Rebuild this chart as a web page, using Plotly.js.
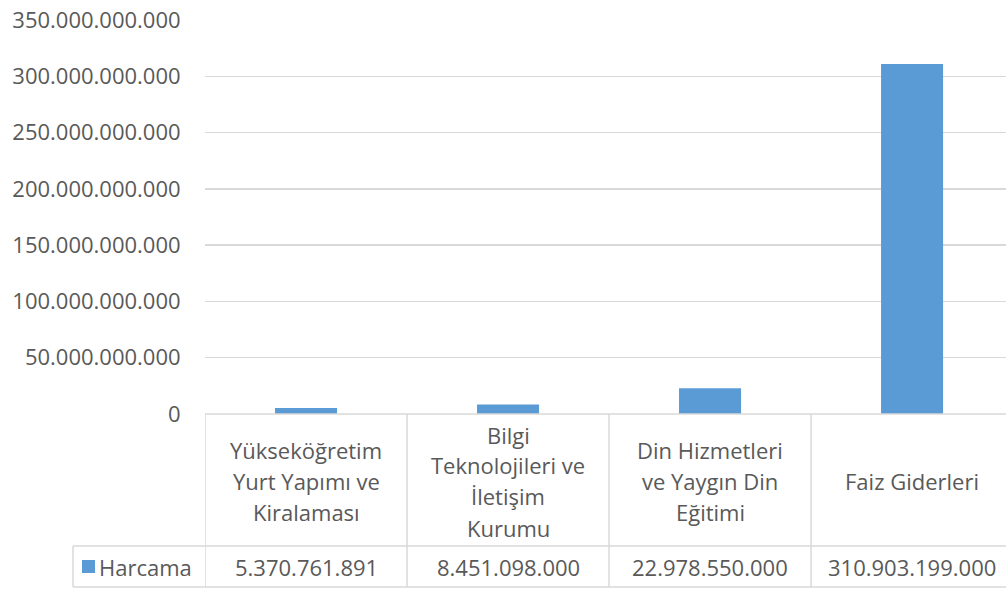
<!DOCTYPE html>
<html>
<head>
<meta charset="utf-8">
<script src="https://cdn.plot.ly/plotly-3.0.1.min.js"></script>
<style>html,body{margin:0;padding:0;background:#fff;}#chart{width:1006px;height:589px;}</style>
</head>
<body>
<div id="chart"></div>
<script>
const categories = ["Yükseköğretim<br>Yurt Yapımı ve<br>Kiralaması", "Bilgi<br>Teknolojileri ve<br>İletişim<br>Kurumu", "Din Hizmetleri<br>ve Yaygın Din<br>Eğitimi", "Faiz Giderleri"];
const seriesName = "Harcama";
const values = [5370761891, 8451098000, 22978550000, 310903199000];
const tickValues = [0, 50e9, 100e9, 150e9, 200e9, 250e9, 300e9, 350e9];

const FONT = "Open Sans, sans-serif";
const GREY = "#595959";
const LINE = "#d9d9d9";
const BLUE = "#5b9bd5";
const FS = 22;

function fmt(v){ return String(Math.round(v)).replace(/\B(?=(\d{3})+(?!\d))/g, "."); }

const xIdx = categories.map((c,i)=>i);
const plotTop = 20, plotBottom = 414, plotH = plotBottom - plotTop;
function py(pix){ return (plotBottom - pix)/plotH; }

const shapes = [];
const annotations = [];
// horizontal table lines
shapes.push({type:'line', xref:'paper', yref:'paper', x0:0, x1:1, y0:0, y1:0, line:{color:LINE, width:1.5}});
shapes.push({type:'line', xref:'paper', yref:'paper', x0:-132/801, x1:1, y0:py(546), y1:py(546), line:{color:LINE, width:1.5}});
shapes.push({type:'line', xref:'paper', yref:'paper', x0:-132/801, x1:1, y0:py(587), y1:py(587), line:{color:LINE, width:1.5}});
shapes.push({type:'line', xref:'paper', yref:'paper', x0:-132/801, x1:-132/801, y0:py(546), y1:py(587), line:{color:LINE, width:1.5}});
for (let i=0;i<=categories.length;i++){
  shapes.push({type:'line', xref:'x', yref:'paper', x0:i-0.5, x1:i-0.5, y0:0, y1:py(587), line:{color:LINE, width:1.5}});
}
// legend key
shapes.push({type:'rect', xref:'paper', yref:'paper', x0:-123/801, x1:-110/801, y0:py(573), y1:py(560), fillcolor:BLUE, line:{width:0}});
annotations.push({xref:'paper', yref:'paper', x:-108/801, y:py(566.5), text:seriesName, showarrow:false, xanchor:'left', yanchor:'middle', font:{family:FONT, size:FS, color:GREY}});

const lineGap = 31;
categories.forEach((c,i)=>{
  const lines = c.split('<br>');
  const n = lines.length;
  const center = 481;
  lines.forEach((ln,k)=>{
    const yPix = center + (k - (n-1)/2)*lineGap;
    annotations.push({xref:'x', yref:'paper', x:i, y:py(yPix), text:ln, showarrow:false, xanchor:'center', yanchor:'middle', font:{family:FONT, size:FS, color:GREY}});
  });
  annotations.push({xref:'x', yref:'paper', x:i, y:py(566.5), text:fmt(values[i]), showarrow:false, xanchor:'center', yanchor:'middle', font:{family:FONT, size:FS, color:GREY}});
});

const data = [{
  type:'bar', x:xIdx, y:values, name:seriesName,
  marker:{color:BLUE}, width:0.307, hoverinfo:'y'
}];

const layout = {
  width:1006, height:589,
  margin:{l:205, r:0, t:plotTop, b:589-plotBottom, pad:0},
  paper_bgcolor:'#fff', plot_bgcolor:'#fff',
  separators:',.',
  showlegend:false,
  font:{family:FONT, size:FS, color:GREY},
  xaxis:{range:[-0.5, 3.465], showticklabels:false, showgrid:false, zeroline:false, showline:false, ticks:'', fixedrange:true},
  yaxis:{range:[0, 350e9], tickvals:tickValues, ticktext:tickValues.map(fmt), showgrid:true, gridcolor:LINE, gridwidth:1.5, zeroline:false, showline:false, ticks:'outside', ticklen:19, tickcolor:'rgba(0,0,0,0)', tickfont:{family:FONT, size:FS, color:GREY}},
  shapes:shapes,
  annotations:annotations
};

Plotly.newPlot('chart', data, layout, {displayModeBar:false, staticPlot:true});
</script>
</body>
</html>
